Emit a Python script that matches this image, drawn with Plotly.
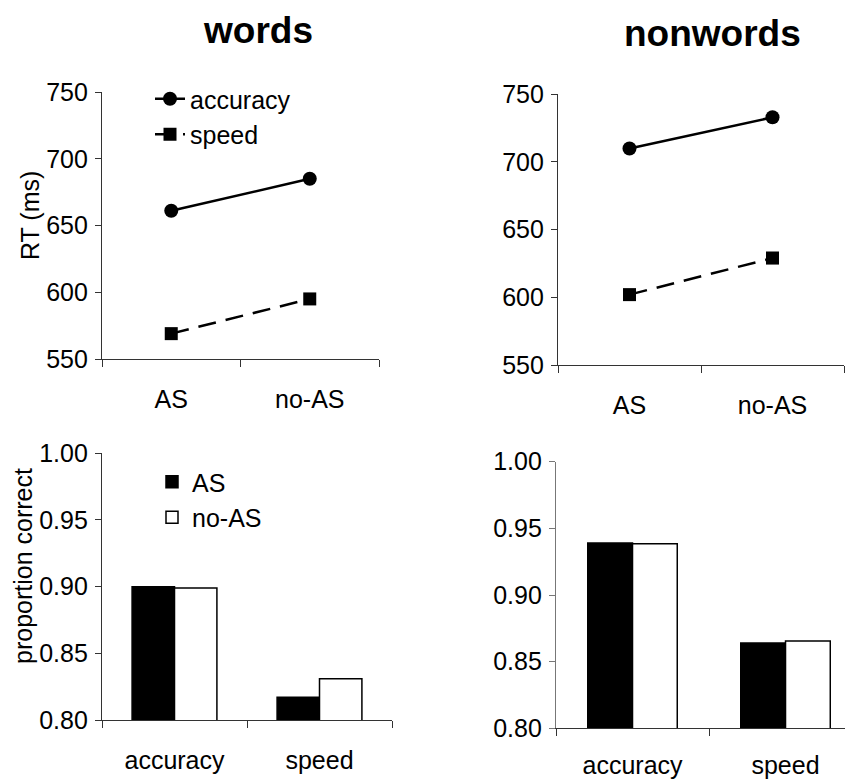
import plotly.graph_objects as go

# page body has an 8px margin, so the figure is sized to fill the rest of the 853x780 window
OFF = 8
W, H = 853 - OFF, 780 - OFF

# ---- data ----
conditions = ["AS", "no-AS"]
words_rt_accuracy = [661, 685]
words_rt_speed = [569, 595]
nonwords_rt_accuracy = [710, 733]
nonwords_rt_speed = [602, 629]

instructions = ["accuracy", "speed"]
words_pc_AS = [0.900, 0.817]
words_pc_noAS = [0.899, 0.831]
nonwords_pc_AS = [0.939, 0.864]
nonwords_pc_noAS = [0.9385, 0.8655]

rt_ticks = [550, 600, 650, 700, 750]
pc_ticks = [0.80, 0.85, 0.90, 0.95, 1.00]

FONT = "Liberation Sans, Arial, Helvetica, sans-serif"
LINE = "#333333"


def px(x):
    return (x - OFF) / W


def py(y):
    return 1 - (y - OFF) / H


def xd(a, b):
    return [max(0, px(a)), min(1, px(b))]


def yd(top, bottom):
    return [py(bottom), py(top)]


fig = go.Figure()

DASH = "18px,10px"

# ---- RT panels ----
fig.add_trace(go.Scatter(x=conditions, y=words_rt_accuracy, name="accuracy", mode="lines+markers",
                         line=dict(color="black", width=2.5),
                         marker=dict(symbol="circle", size=14, color="black"),
                         xaxis="x", yaxis="y", legend="legend"))
fig.add_trace(go.Scatter(x=conditions, y=words_rt_speed, name="speed", mode="lines+markers",
                         line=dict(color="black", width=2.5, dash=DASH),
                         marker=dict(symbol="square", size=13, color="black"),
                         xaxis="x", yaxis="y", legend="legend"))
fig.add_trace(go.Scatter(x=conditions, y=nonwords_rt_accuracy, name="accuracy", mode="lines+markers",
                         line=dict(color="black", width=2.5),
                         marker=dict(symbol="circle", size=14, color="black"),
                         xaxis="x2", yaxis="y2", showlegend=False))
fig.add_trace(go.Scatter(x=conditions, y=nonwords_rt_speed, name="speed", mode="lines+markers",
                         line=dict(color="black", width=2.5, dash=DASH),
                         marker=dict(symbol="square", size=13, color="black"),
                         xaxis="x2", yaxis="y2", showlegend=False))

# ---- proportion correct panels ----
fig.add_trace(go.Bar(x=instructions, y=words_pc_AS, name="AS",
                     marker=dict(color="black", line=dict(color="black", width=1.5)),
                     xaxis="x3", yaxis="y3", legend="legend2"))
fig.add_trace(go.Bar(x=instructions, y=words_pc_noAS, name="no-AS",
                     marker=dict(color="white", line=dict(color="black", width=1.5)),
                     xaxis="x3", yaxis="y3", legend="legend2"))
fig.add_trace(go.Bar(x=instructions, y=nonwords_pc_AS, name="AS",
                     marker=dict(color="black", line=dict(color="black", width=1.5)),
                     xaxis="x4", yaxis="y4", showlegend=False))
fig.add_trace(go.Bar(x=instructions, y=nonwords_pc_noAS, name="no-AS",
                     marker=dict(color="white", line=dict(color="black", width=1.5)),
                     xaxis="x4", yaxis="y4", showlegend=False))

tickfont = dict(family=FONT, size=25, color="black")


def xaxis(domain, anchor, rng, standoff=18):
    return dict(domain=domain, anchor=anchor, type="category", range=rng,
                tickson="boundaries", ticks="outside", ticklen=7, tickcolor=LINE,
                showline=True, linecolor=LINE, linewidth=1.2, showgrid=False,
                zeroline=False, tickfont=tickfont, ticklabelstandoff=standoff, fixedrange=True,
                automargin=False)


def yaxis(domain, anchor, rng, tv, fmt, lc=LINE):
    return dict(domain=domain, anchor=anchor, range=rng, tickvals=tv, tickformat=fmt,
                ticks="outside", ticklen=6, tickcolor=lc, showline=True, linecolor=lc,
                linewidth=1.2, showgrid=False, zeroline=False, tickfont=tickfont,
                ticklabelstandoff=2, fixedrange=True, automargin=False)


fig.update_layout(
    template="none",
    width=W, height=H, autosize=False,
    margin=dict(l=0, r=0, t=0, b=0, pad=0, autoexpand=False),
    paper_bgcolor="white", plot_bgcolor="white",
    font=dict(family=FONT, color="black"),
    barmode="group", bargap=0.415, bargroupgap=0,
    xaxis=xaxis(xd(102, 379), "y", [-0.5, 1.5]),
    yaxis=yaxis(yd(92, 359), "x", [550, 750], rt_ticks, "d"),
    xaxis2=xaxis(xd(558, 844), "y2", [-0.5, 1.5]),
    yaxis2=yaxis(yd(94.3, 365), "x2", [550, 750], rt_ticks, "d"),
    xaxis3=xaxis(xd(102, 392), "y3", [-0.5, 1.5]),
    yaxis3=yaxis(yd(453.3, 720), "x3", [0.8, 1.0], pc_ticks, ".2f"),
    xaxis4=xaxis(xd(556, 853), "y4", [-0.5, 1.441], standoff=15),
    yaxis4=yaxis(yd(461.7, 728.3), "x4", [0.8, 1.0], pc_ticks, ".2f", lc="#777777"),
    legend=dict(x=px(150), xanchor="left", y=py(76), yanchor="top",
                font=dict(family=FONT, size=25, color="black"), bgcolor="rgba(0,0,0,0)",
                borderwidth=0, tracegroupgap=0, itemclick=False, itemdoubleclick=False),
    legend2=dict(x=px(152), xanchor="left", y=py(459), yanchor="top",
                 font=dict(family=FONT, size=25, color="black"), bgcolor="rgba(0,0,0,0)",
                 borderwidth=0, tracegroupgap=0, itemclick=False, itemdoubleclick=False),
    showlegend=True,
)

annots = [
    dict(text="<b>words</b>", x=258, y=31, size=37, angle=0),
    dict(text="<b>nonwords</b>", x=712, y=33, size=37, angle=0),
    dict(text="RT (ms)", x=30, y=216, size=25, angle=-90),
    dict(text="proportion correct", x=23, y=566, size=25, angle=-90),
]
for a in annots:
    fig.add_annotation(text=a["text"], x=px(a["x"]), y=py(a["y"]), xref="paper", yref="paper",
                       xanchor="center", yanchor="middle", showarrow=False,
                       textangle=a["angle"], font=dict(family=FONT, size=a["size"], color="black"))

fig.write_html("out.html")
